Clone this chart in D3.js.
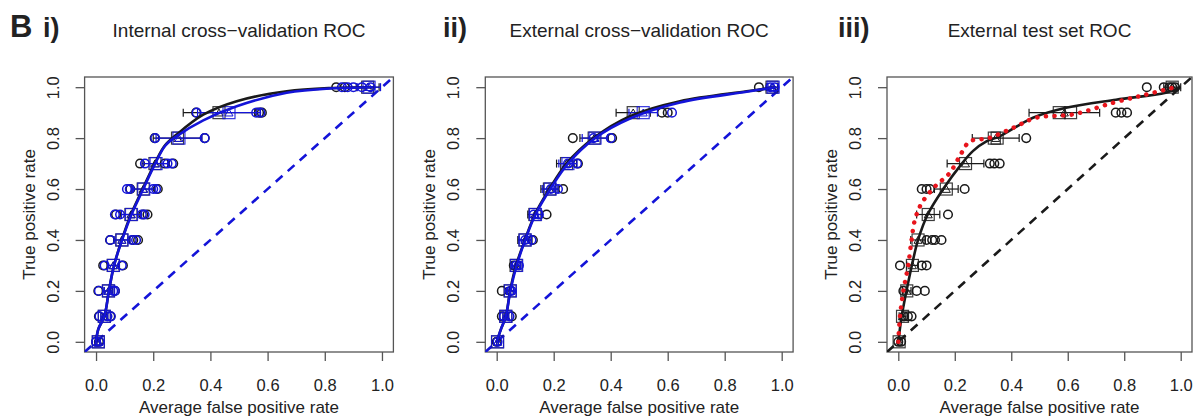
<!DOCTYPE html>
<html>
<head>
<meta charset="utf-8">
<script src="https://cdn.jsdelivr.net/npm/d3@7"></script>
<style>
  body { margin: 0; background: #fff; }
  text { font-family: "Liberation Sans", Arial, sans-serif; fill: #222; }
</style>
</head>
<body>
<svg id="chart" width="1197" height="420"></svg>
<script>
// ---- data ----
const tprLevels = [0, 0.1, 0.2, 0.3, 0.4, 0.5, 0.6, 0.7, 0.8, 0.9, 1.0];
const axisTicks = [0, 0.2, 0.4, 0.6, 0.8, 1.0];
const panelNumerals = ['i)', 'ii)', 'iii)'];
const panelTitles = ['Internal cross\u2212validation ROC', 'External cross\u2212validation ROC', 'External test set ROC'];

// panel i) internal CV
const p1BlackMean = [0.008, 0.029, 0.043, 0.06, 0.09, 0.122, 0.165, 0.206, 0.285, 0.43, 0.95];
const p1BlackSd   = [0.005, 0.012, 0.015, 0.02, 0.028, 0.035, 0.04, 0.045, 0.085, 0.125, 0.04];
const p1BlueMean  = [0.008, 0.029, 0.044, 0.061, 0.091, 0.124, 0.167, 0.21, 0.29, 0.465, 0.955];
const p1BlueSd    = [0.005, 0.012, 0.015, 0.02, 0.028, 0.035, 0.04, 0.045, 0.08, 0.11, 0.04];
const p1BlackFolds = [[0.0, 0.01], [0.01, 0.05], [0.008, 0.066], [0.025, 0.094], [0.049, 0.13, 0.147],
  [0.07, 0.165, 0.18], [0.12, 0.216], [0.154, 0.24, 0.27], [0.205, 0.38], [0.35, 0.57, 0.58], [0.84, 0.87]];
const p1BlueFolds = [[0.0, 0.012], [0.012, 0.04, 0.052], [0.01, 0.06, 0.066], [0.03, 0.09], [0.05, 0.125, 0.14],
  [0.066, 0.084, 0.16, 0.17], [0.108, 0.118, 0.2, 0.21], [0.171, 0.25, 0.265], [0.207, 0.38], [0.352, 0.56, 0.575],
  [0.86, 0.88, 0.9, 0.93, 0.96]];
const p1BlackCurve = [[0, 0], [0.008, 0.05], [0.029, 0.1], [0.045, 0.2], [0.063, 0.3], [0.09, 0.4], [0.122, 0.5],
  [0.163, 0.6], [0.205, 0.7], [0.24, 0.77], [0.282, 0.814], [0.375, 0.892], [0.492, 0.945], [0.667, 0.984],
  [0.83, 0.997], [0.97, 1.0]];
const p1BlueCurve = [[0, 0], [0.008, 0.05], [0.029, 0.1], [0.045, 0.2], [0.063, 0.3], [0.091, 0.4], [0.124, 0.5],
  [0.165, 0.6], [0.207, 0.7], [0.242, 0.77], [0.285, 0.81], [0.375, 0.87], [0.492, 0.925], [0.667, 0.978],
  [0.83, 0.996], [0.97, 1.0]];

// panel ii) external CV
const p2BlackMean = [0.003, 0.032, 0.047, 0.068, 0.099, 0.134, 0.185, 0.245, 0.342, 0.479, 0.966];
const p2BlackSd   = [0.003, 0.01, 0.012, 0.015, 0.025, 0.025, 0.03, 0.035, 0.05, 0.06, 0.02];
const p2BlueMean  = [0.003, 0.032, 0.048, 0.07, 0.1, 0.136, 0.188, 0.25, 0.345, 0.514, 0.97];
const p2BlueSd    = [0.003, 0.01, 0.012, 0.015, 0.022, 0.022, 0.028, 0.032, 0.045, 0.05, 0.018];
const p2BlackFolds = [[0.0], [0.018, 0.053], [0.018], [0.06], [0.127], [0.175], [0.233], [0.285], [0.267, 0.405],
  [0.58, 0.6], [0.92]];
const p2BlueFolds = [[0.003], [0.025, 0.045], [0.047, 0.052], [0.068, 0.078], [0.1, 0.122], [0.13, 0.148],
  [0.19, 0.215], [0.25, 0.282], [0.34, 0.4], [0.615], [0.96, 0.975]];
const p2BlackCurve = [[0, 0], [0.015, 0.05], [0.032, 0.1], [0.047, 0.2], [0.068, 0.3], [0.099, 0.4], [0.134, 0.5],
  [0.185, 0.6], [0.245, 0.7], [0.34, 0.8], [0.468, 0.886], [0.643, 0.945], [0.877, 0.984], [0.98, 1.0]];
const p2BlueCurve = [[0, 0], [0.015, 0.05], [0.032, 0.1], [0.048, 0.2], [0.07, 0.3], [0.1, 0.4], [0.136, 0.5],
  [0.188, 0.6], [0.25, 0.7], [0.345, 0.8], [0.47, 0.878], [0.643, 0.94], [0.877, 0.982], [0.98, 1.0]];

// panel iii) external test set
const p3BlackMean = [0.003, 0.015, 0.03, 0.05, 0.07, 0.106, 0.17, 0.238, 0.345, 0.588, 0.97];
const p3BlackSd   = [0.003, 0.012, 0.015, 0.02, 0.026, 0.041, 0.042, 0.065, 0.083, 0.125, 0.03];
const p3Squares = [[0.003], [0.015], [0.03], [0.05], [0.07], [0.106], [0.17], [0.238], [0.34, 0.35], [0.57, 0.61], [0.97]];
const p3BlackFolds = [[0.0, 0.01], [0.02, 0.034, 0.047], [0.018, 0.065, 0.094], [0.006, 0.083, 0.1],
  [0.1, 0.12, 0.13, 0.153], [0.176], [0.083, 0.1, 0.112, 0.235], [0.324, 0.34, 0.359], [0.453],
  [0.77, 0.79, 0.81], [0.88, 0.94, 0.96, 0.97, 0.98]];
const p3BlackCurve = [[0, 0], [0.012, 0.1], [0.029, 0.2], [0.048, 0.3], [0.07, 0.4], [0.104, 0.5], [0.159, 0.6],
  [0.225, 0.7], [0.265, 0.75], [0.312, 0.787], [0.359, 0.807], [0.477, 0.88], [0.594, 0.919], [0.771, 0.951],
  [0.947, 0.978], [1.0, 1.0]];
const p3RedCurve = [[0, 0], [0.006, 0.1], [0.018, 0.2], [0.035, 0.3], [0.047, 0.4], [0.059, 0.48], [0.083, 0.545],
  [0.13, 0.61], [0.182, 0.663], [0.224, 0.742], [0.253, 0.787], [0.32, 0.8], [0.406, 0.84], [0.488, 0.88],
  [0.618, 0.893], [0.758, 0.938], [0.877, 0.971], [0.98, 1.0]];

const BLUE = '#1414d8';
const BLACK = '#1a1a1a';
const RED = '#e8141c';

const svg = d3.select('#chart');

// B label
svg.append('text').attr('x', 10).attr('y', 37)
  .style('font-size', '31px').style('font-weight', 'bold').text('B');

const panels = [
  { left: 84.6, right: 393.4, numX: 43, diag: BLUE,
    series: [
      { color: BLACK, mean: p1BlackMean, sd: p1BlackSd, folds: p1BlackFolds, curve: p1BlackCurve },
      { color: BLUE, mean: p1BlueMean, sd: p1BlueSd, folds: p1BlueFolds, curve: p1BlueCurve }
    ] },
  { left: 485.3, right: 793.1, numX: 443, diag: BLUE,
    series: [
      { color: BLACK, mean: p2BlackMean, sd: p2BlackSd, folds: p2BlackFolds, curve: p2BlackCurve },
      { color: BLUE, mean: p2BlueMean, sd: p2BlueSd, folds: p2BlueFolds, curve: p2BlueCurve }
    ] },
  { left: 887, right: 1192, numX: 838, diag: BLACK, red: p3RedCurve,
    series: [
      { color: BLACK, mean: p3BlackMean, sd: p3BlackSd, folds: p3BlackFolds, curve: p3BlackCurve, squares: p3Squares }
    ] }
];

const plotTop = 77, plotBottom = 352;

panels.forEach((p, i) => {
  const x = d3.scaleLinear().domain([-0.04, 1.04]).range([p.left, p.right]);
  const y = d3.scaleLinear().domain([-0.04, 1.04]).range([plotBottom, plotTop]);
  const cx = (p.left + p.right) / 2;
  const g = svg.append('g');

  // numeral + title
  g.append('text').attr('x', p.numX).attr('y', 37)
    .style('font-size', '27px').style('font-weight', 'bold').text(panelNumerals[i]);
  g.append('text').attr('x', cx).attr('y', 37).attr('text-anchor', 'middle')
    .style('font-size', '19px').text(panelTitles[i]);

  // box
  g.append('rect').attr('x', p.left).attr('y', plotTop)
    .attr('width', p.right - p.left).attr('height', plotBottom - plotTop)
    .attr('fill', 'none').attr('stroke', '#555').attr('stroke-width', 1.3);

  // axes
  const xa = g.append('g').attr('transform', `translate(0,${plotBottom})`)
    .call(d3.axisBottom(x).tickValues(axisTicks).tickFormat(d3.format('.1f')).tickSize(9).tickPadding(18));
  const ya = g.append('g').attr('transform', `translate(${p.left},0)`)
    .call(d3.axisLeft(y).tickValues(axisTicks).tickFormat(d3.format('.1f')).tickSize(9));
  [xa, ya].forEach(a => {
    a.select('.domain').remove();
    a.selectAll('line').attr('stroke', '#555').attr('stroke-width', 1.3);
    a.selectAll('text').style('font-size', '16.5px').attr('fill', '#222')
      .style('font-family', '"Liberation Sans", Arial, sans-serif');
  });
  ya.selectAll('text').attr('x', 0).attr('dy', 0).attr('text-anchor', 'middle')
    .attr('transform', 'translate(-26,0) rotate(-90)');

  g.append('text').attr('x', cx).attr('y', 413).attr('text-anchor', 'middle')
    .style('font-size', '17px').text('Average false positive rate');
  g.append('text').attr('transform', `translate(${p.left - 50},${(plotTop + plotBottom) / 2}) rotate(-90)`)
    .attr('text-anchor', 'middle').style('font-size', '17px').text('True positive rate');

  const plot = g.append('g');
  const clipId = 'clip' + i;
  svg.append('clipPath').attr('id', clipId).append('rect')
    .attr('x', p.left).attr('y', plotTop).attr('width', p.right - p.left).attr('height', plotBottom - plotTop);

  // chance diagonal
  plot.append('line').attr('clip-path', `url(#${clipId})`)
    .attr('x1', x(-0.04)).attr('y1', y(-0.04)).attr('x2', x(1.04)).attr('y2', y(1.04))
    .attr('stroke', p.diag).attr('stroke-width', 2.6).attr('stroke-dasharray', '9 7');

  const line = d3.line().x(d => x(d[0])).y(d => y(d[1])).curve(d3.curveCatmullRom.alpha(0.5));

  p.series.forEach(s => {
    // error bars
    tprLevels.forEach((t, k) => {
      const x0 = x(s.mean[k] - s.sd[k]), x1 = x(s.mean[k] + s.sd[k]), yy = y(t);
      plot.append('line').attr('x1', x0).attr('x2', x1).attr('y1', yy).attr('y2', yy)
        .attr('stroke', s.color).attr('stroke-width', 1.2);
      [x0, x1].forEach(xe => plot.append('line').attr('x1', xe).attr('x2', xe)
        .attr('y1', yy - 4).attr('y2', yy + 4).attr('stroke', s.color).attr('stroke-width', 1.2));
    });
    // fold circles
    tprLevels.forEach((t, k) => {
      plot.selectAll(null).data(s.folds[k]).join('circle')
        .attr('cx', d => x(d)).attr('cy', y(t)).attr('r', 4.3)
        .attr('fill', 'none').attr('stroke', s.color).attr('stroke-width', 1.5);
    });
    // mean squares + triangles
    tprLevels.forEach((t, k) => {
      const sq = s.squares ? s.squares[k] : [s.mean[k]];
      plot.selectAll(null).data(sq).join('rect')
        .attr('x', d => x(d) - 6).attr('y', y(t) - 6).attr('width', 12).attr('height', 12)
        .attr('fill', 'none').attr('stroke', s.color).attr('stroke-width', 1.2).attr('opacity', 0.85);
      const tri = d3.symbol().type(d3.symbolTriangle).size(28);
      plot.append('path').attr('d', tri()).attr('transform', `translate(${x(s.mean[k])},${y(t) + 1})`)
        .attr('fill', 'none').attr('stroke', s.color).attr('stroke-width', 1);
    });
  });

  // fitted curves on top
  p.series.forEach(s => {
    plot.append('path').datum(s.curve).attr('d', line)
      .attr('fill', 'none').attr('stroke', s.color).attr('stroke-width', 2.6);
  });
  if (p.red) {
    plot.append('path').datum(p.red).attr('d', line)
      .attr('fill', 'none').attr('stroke', RED).attr('stroke-width', 4.5)
      .attr('stroke-linecap', 'round').attr('stroke-dasharray', '0.1 8.5');
  }
});
</script>
</body>
</html>
